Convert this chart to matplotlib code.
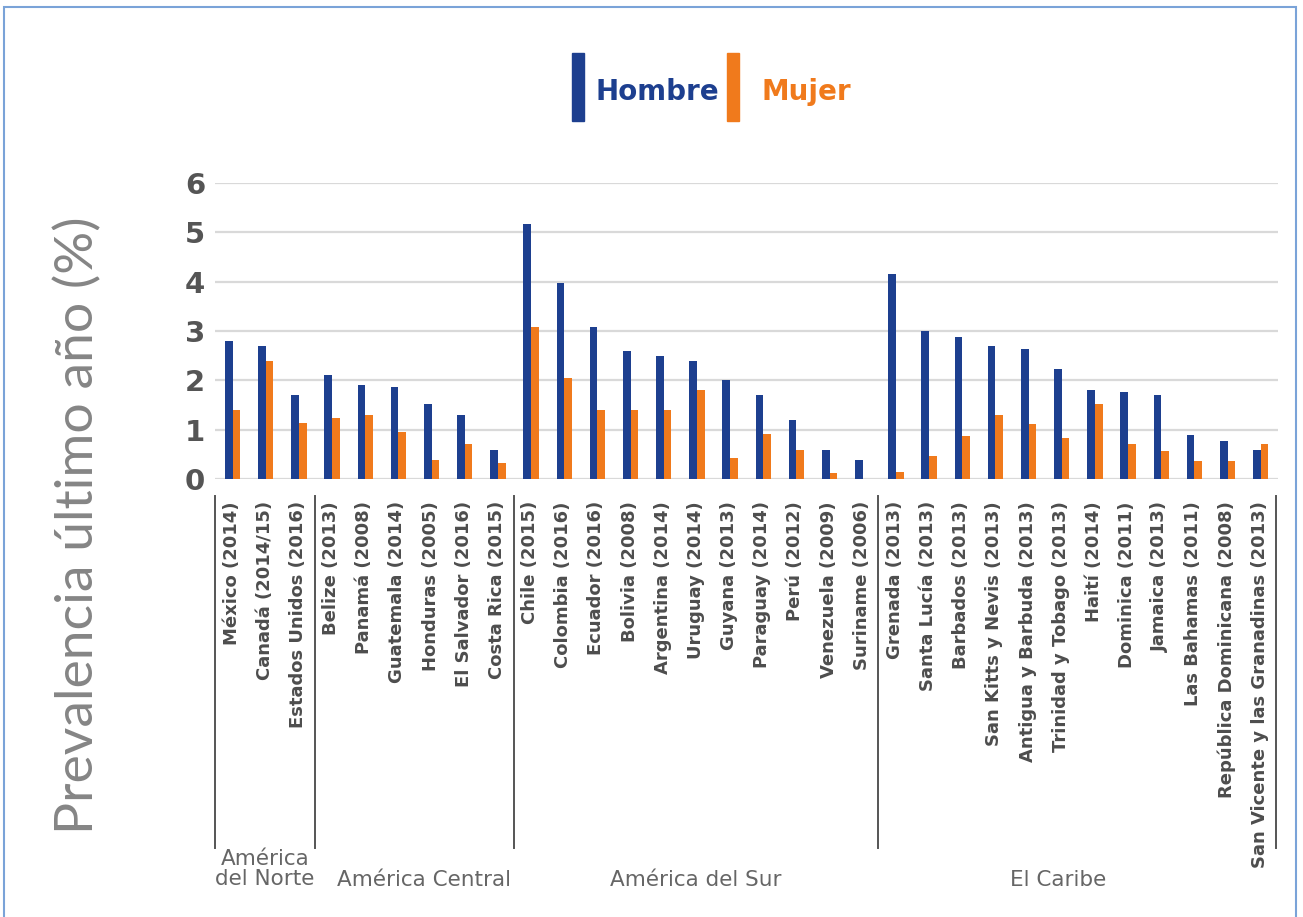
import matplotlib
matplotlib.use("Agg")
import matplotlib.pyplot as plt
from matplotlib import font_manager
from matplotlib.patches import Rectangle
import numpy as np

# --- Datos ---
paises = [
    "México (2014)", "Canadá (2014/15)", "Estados Unidos (2016)",
    "Belize (2013)", "Panamá (2008)", "Guatemala (2014)", "Honduras (2005)",
    "El Salvador (2016)", "Costa Rica (2015)",
    "Chile (2015)", "Colombia (2016)", "Ecuador (2016)", "Bolivia (2008)",
    "Argentina (2014)", "Uruguay (2014)", "Guyana (2013)", "Paraguay (2014)",
    "Perú (2012)", "Venezuela (2009)", "Suriname (2006)",
    "Grenada (2013)", "Santa Lucía (2013)", "Barbados (2013)",
    "San Kitts y Nevis (2013)", "Antigua y Barbuda (2013)",
    "Trinidad y Tobago (2013)", "Haití (2014)", "Dominica (2011)",
    "Jamaica (2013)", "Las Bahamas (2011)", "República Dominicana (2008)",
    "San Vicente y las Granadinas (2013)",
]
hombre = [2.8, 2.7, 1.7,
          2.1, 1.9, 1.87, 1.52, 1.3, 0.59,
          5.17, 3.97, 3.08, 2.6, 2.5, 2.39, 2.01, 1.7, 1.19, 0.59, 0.39,
          4.15, 3.01, 2.87, 2.7, 2.63, 2.22, 1.8, 1.77, 1.7, 0.9, 0.78, 0.59]
mujer = [1.4, 2.4, 1.13,
         1.23, 1.3, 0.95, 0.39, 0.71, 0.33,
         3.08, 2.04, 1.39, 1.39, 1.39, 1.8, 0.42, 0.91, 0.59, 0.13, 0.0,
         0.15, 0.46, 0.87, 1.29, 1.12, 0.84, 1.53, 0.7, 0.57, 0.36, 0.36, 0.7]
regiones = ["América\ndel Norte", "América Central", "América del Sur", "El Caribe"]
n_por_region = [3, 6, 11, 12]
yticks = [0, 1, 2, 3, 4, 5, 6]

AZUL = "#1d3f8f"
NARANJA = "#f07a1c"
GRIS = "#555555"
BORDE = "#7aa3d8"

disponibles = {f.name for f in font_manager.fontManager.ttflist}


def elegir(opciones):
    for o in opciones:
        if o in disponibles:
            return o
    return "DejaVu Sans"


F_ESTRECHA = elegir(["Liberation Sans Narrow", "DejaVu Sans"])
F_LIGERA = elegir(["Lato", "Roboto", "Open Sans", "DejaVu Sans"])

W, H = 1303, 917
fig = plt.figure(figsize=(W / 100, H / 100), dpi=100)


def fx(px):
    return px / W


def fy(py):
    return 1 - py / H


ax = fig.add_axes([fx(215), fy(479), fx(1278 - 215), (479 - 183) / H])

x = np.arange(len(paises))
ancho = 0.23
ax.bar(x - 0.085, hombre, width=ancho, color=AZUL, zorder=3)
ax.bar(x + 0.145, mujer, width=ancho, color=NARANJA, zorder=3)

ax.set_ylim(0, 6)
ax.set_xlim(-0.5, len(paises) - 0.45)
ax.set_yticks(yticks)
ax.set_yticklabels([str(v) for v in yticks], fontsize=21, fontweight="bold",
                   color=GRIS, family=F_ESTRECHA)
ax.grid(axis="y", color="#d9d9d9", lw=1.6, zorder=0)
ax.set_xticks(x)
ax.set_xticklabels(paises, rotation=90, va="top", ha="center", fontsize=13,
                   fontweight="bold", color="#4d4d4d", family=F_ESTRECHA)
ax.tick_params(axis="x", length=0, pad=16)
ax.tick_params(axis="y", length=0, pad=7)
for s in ax.spines.values():
    s.set_visible(False)

# separadores de regiones y nombres
trans = ax.get_xaxis_transform()
y0 = (479 - 496) / 296
y1 = (479 - 848) / 296
limites = np.concatenate([[0], np.cumsum(n_por_region)]) - 0.5
desplaz = [0.0, 0.3, 0.0, -0.57]
for b in limites:
    ax.plot([b, b], [y0, y1], color="#555555", lw=1.4, transform=trans,
            clip_on=False)
for i, reg in enumerate(regiones):
    c = (limites[i] + limites[i + 1]) / 2 + desplaz[i]
    yy = (479 - 869) / 296 if "\n" in reg else (479 - 880) / 296
    ax.text(c, yy, reg, transform=trans, ha="center", va="center",
            fontsize=15.5, color="#666666", family=F_ESTRECHA,
            linespacing=1.05)

# titulo del eje y
fig.text(fx(78), fy(525), "Prevalencia último año (%)", rotation=90,
         ha="center", va="center", fontsize=38.5, color="#858585",
         family=F_LIGERA, fontweight="normal")

# leyenda manual
for (x0, x1, col, txt, tx) in [(572, 584, AZUL, "Hombre", 595),
                               (727, 739, NARANJA, "Mujer", 762)]:
    fig.patches.append(Rectangle((fx(x0), fy(121)), fx(x1 - x0), (121 - 53) / H,
                                 transform=fig.transFigure, color=col))
    fig.text(fx(tx), fy(92), txt, ha="left", va="center", fontsize=20,
             fontweight="bold", color=col, family=F_ESTRECHA)

# marco
fig.patches.append(Rectangle((fx(4), -0.05), fx(1296 - 4), fy(7) + 0.05,
                             transform=fig.transFigure, fill=False,
                             edgecolor=BORDE, lw=1.5))

fig.savefig("out.png", dpi=100)
